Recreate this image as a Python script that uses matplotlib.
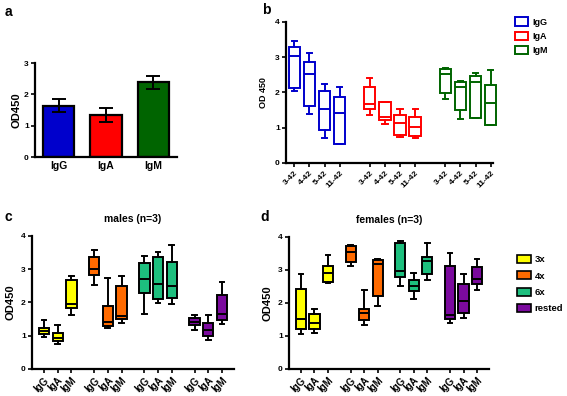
import matplotlib
matplotlib.use("Agg")
import matplotlib.pyplot as plt
from matplotlib.patches import Patch

plt.rcParams['font.family'] = ['Liberation Sans', 'DejaVu Sans']
plt.rcParams['font.weight'] = 'bold'

# panel a: mean +- error
iso = ["IgG", "IgA", "IgM"]
a_mean = [1.64, 1.34, 2.39]
a_err = [0.205, 0.225, 0.205]
a_colors = ["#0000CC", "#FF0000", "#006400"]

# panel b: five number summaries (low, q1, median, q3, high) per dilution
dilutions = ["3-42", "4-42", "5-42", "11-42"]
b_igg = [[2.05, 2.12, 3.04, 3.28, 3.46], [1.38, 1.62, 2.52, 2.86, 3.12],
         [0.72, 0.92, 1.53, 2.05, 2.25], [0.54, 0.55, 1.41, 1.88, 2.15]]
b_iga = [[1.36, 1.53, 1.68, 2.16, 2.40], [1.11, 1.22, 1.30, 1.74, 1.74],
         [0.73, 0.78, 1.12, 1.36, 1.54], [0.70, 0.77, 1.03, 1.30, 1.52]]
b_igm = [[1.82, 1.98, 2.52, 2.67, 2.70], [1.25, 1.49, 2.14, 2.28, 2.31],
         [1.26, 1.27, 2.28, 2.47, 2.56], [1.08, 1.08, 1.69, 2.22, 2.62]]
b_empty = [0, 0, 0, 0, 0]

# panels c/d: groups 3x, 4x, 6x, rested; each IgG, IgA, IgM
groups = ["3x", "4x", "6x", "rested"]
group_colors = ["#FFFF00", "#FF6A00", "#1DBF7E", "#7B0A9E"]
males = [
    [[0.95, 1.06, 1.15, 1.24, 1.46], [0.76, 0.84, 0.92, 1.09, 1.31], [1.61, 1.83, 1.94, 2.68, 2.78]],
    [[2.53, 2.83, 3.01, 3.35, 3.58], [1.23, 1.28, 1.41, 1.90, 2.74], [1.38, 1.49, 1.59, 2.48, 2.79]],
    [[1.65, 2.27, 2.70, 3.17, 3.38], [1.97, 2.11, 2.56, 3.35, 3.52], [1.95, 2.13, 2.50, 3.20, 3.71]],
    [[1.16, 1.31, 1.42, 1.53, 1.63], [0.87, 0.99, 1.16, 1.38, 1.61], [1.34, 1.46, 1.66, 2.23, 2.61]],
]
females = [
    [[1.06, 1.20, 1.50, 2.43, 2.86], [1.10, 1.22, 1.40, 1.65, 1.81], [2.61, 2.63, 2.91, 3.11, 3.45]],
    [[3.12, 3.23, 3.55, 3.72, 3.75], [1.34, 1.49, 1.69, 1.81, 2.38], [1.90, 2.21, 3.18, 3.30, 3.34]],
    [[2.50, 2.79, 2.95, 3.81, 3.88], [2.11, 2.36, 2.50, 2.70, 2.91], [2.68, 2.86, 3.25, 3.40, 3.82]],
    [[1.39, 1.50, 1.64, 3.12, 3.50], [1.54, 1.70, 2.07, 2.57, 2.88], [2.40, 2.58, 2.73, 3.07, 3.33]],
]


def stats(v):
    return dict(whislo=v[0], q1=v[1], med=v[2], q3=v[3], whishi=v[4], fliers=[])


def style_ax(ax, ymax):
    for s in ["top", "right"]:
        ax.spines[s].set_visible(False)
    for s in ["left", "bottom"]:
        ax.spines[s].set_linewidth(1.6)
    ax.set_ylim(0, ymax)
    ax.set_yticks(range(0, ymax + 1))
    ax.tick_params(axis="both", width=1.2, length=3, labelsize=6, pad=1.5)
    for lab in ax.get_yticklabels():
        lab.set_fontweight("bold")


fig = plt.figure(figsize=(5.67, 3.96), dpi=100)

# ---- a
ax = fig.add_axes([0.0617, 0.6035, 0.2504, 0.2374])
ax.bar(range(3), a_mean, width=0.66, color=a_colors, edgecolor="black", linewidth=1.6)
ax.errorbar(range(3), a_mean, yerr=a_err, fmt="none", ecolor="black", elinewidth=1.4,
            capsize=5, capthick=1.4)
ax.set_xlim(-0.5, 2.5)
style_ax(ax, 3)
ax.set_xticks(range(3))
ax.set_xticklabels(iso, fontsize=7.5, fontweight="bold")
ax.tick_params(axis="x", length=0, pad=3)
ax.set_ylabel("OD450", fontsize=8, fontweight="bold", labelpad=2)
fig.text(0.008, 0.97, "a", fontsize=10, fontweight="bold", va="center")

# ---- b
ax = fig.add_axes([0.5044, 0.5884, 0.365, 0.3568])
b_sets = [b_igg, b_iga, b_igm]
b_cols = ["#0000CC", "#FF0000", "#006400"]
ticks_b = []
for k, (data, c) in enumerate(zip(b_sets, b_cols)):
    pos = [k * 5 + i for i in range(4)]
    ticks_b += pos
    art = ax.bxp([stats(v) for v in data], positions=pos, widths=0.75, patch_artist=True,
                 showfliers=False, capwidths=0.35,
                 boxprops=dict(facecolor="white", edgecolor=c, linewidth=1.4),
                 whiskerprops=dict(color=c, linewidth=1.4),
                 capprops=dict(color=c, linewidth=1.4),
                 medianprops=dict(color=c, linewidth=1.4))
    for group in art.values():
        for a in group:
            a.set_clip_on(False)
    if k < 2:
        ax.bxp([stats(b_empty)], positions=[k * 5 + 4], widths=0.75, showfliers=False,
               boxprops=dict(color="#0000CC", linewidth=1.4),
               whiskerprops=dict(color="#0000CC"), capprops=dict(color="#0000CC"),
               medianprops=dict(color="#0000CC", linewidth=1.4))
ax.set_xlim(-0.55, 13.15)
style_ax(ax, 4)
ax.set_xticks(ticks_b)
ax.set_xticklabels(dilutions * 3, rotation=45, ha="right", rotation_mode="anchor",
                   fontsize=6, fontweight="bold")
ax.set_ylabel("OD 450", fontsize=6.5, fontweight="bold", labelpad=5)
handles = [Patch(facecolor="white", edgecolor=c, linewidth=1.4, label=l) for c, l in zip(b_cols, iso)]
fig.legend(handles=handles, loc="upper left", bbox_to_anchor=(0.902, 0.965), frameon=False,
           fontsize=6.5, handlelength=1.4, handleheight=1.0, labelspacing=0.55,
           handletextpad=0.5, borderaxespad=0)
fig.text(0.462, 0.975, "b", fontsize=10, fontweight="bold", va="center")


# ---- c / d
def group_panel(rect, data, title, letter, lx):
    ax = fig.add_axes(rect)
    ticks = []
    for g, (trip, col) in enumerate(zip(data, group_colors)):
        pos = [g * 3.67 + i for i in range(3)]
        ticks += pos
        ax.bxp([stats(v) for v in trip], positions=pos, widths=0.75, patch_artist=True,
               showfliers=False, capwidths=0.35,
               boxprops=dict(facecolor=col, edgecolor="black", linewidth=1.4),
               whiskerprops=dict(color="black", linewidth=1.4),
               capprops=dict(color="black", linewidth=1.4),
               medianprops=dict(color="black", linewidth=1.4))
    ax.set_xlim(-0.88, 3 * 3.67 + 2 + 0.88)
    style_ax(ax, 4)
    ax.set_xticks(ticks)
    ax.set_xticklabels(iso * 4, rotation=45, ha="right", rotation_mode="anchor",
                       fontsize=7, fontweight="bold")
    ax.set_ylabel("OD450", fontsize=8, fontweight="bold", labelpad=4)
    ax.set_title(title, fontsize=7.5, fontweight="bold", pad=10)
    fig.text(lx, 0.452, letter, fontsize=10, fontweight="bold", va="center")
    return ax


group_panel([0.0564, 0.0682, 0.3563, 0.3366], males, "males (n=3)", "c", 0.008)
group_panel([0.5097, 0.0682, 0.3527, 0.3341], females, "females (n=3)", "d", 0.46)

handles = [Patch(facecolor=c, edgecolor="black", linewidth=1.2, label=l) for c, l in zip(group_colors, groups)]
fig.legend(handles=handles, loc="upper left", bbox_to_anchor=(0.906, 0.365), frameon=False,
           fontsize=6.8, handlelength=1.4, handleheight=0.9, labelspacing=0.75,
           handletextpad=0.4, borderaxespad=0)

fig.savefig("out.png", dpi=100)
